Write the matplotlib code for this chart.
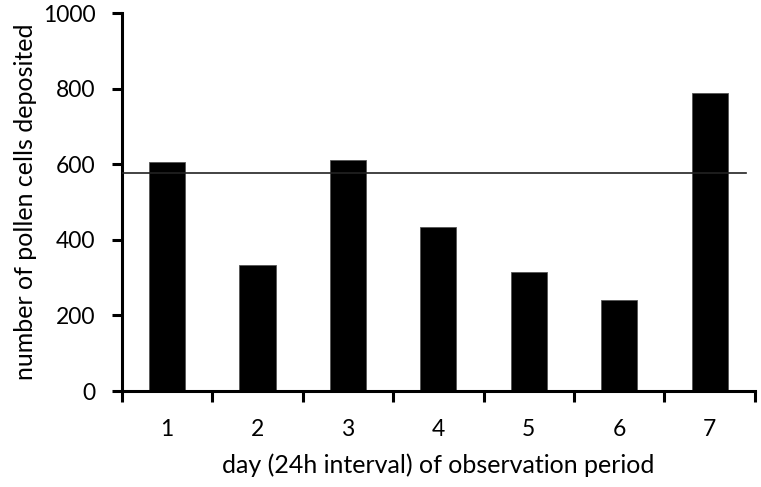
import numpy as np
import matplotlib.pyplot as plt
from matplotlib.ticker import FixedLocator

plt.rcParams['font.family'] = ['Lato', 'DejaVu Sans']

# data
days = ['1', '2', '3', '4', '5', '6', '7']
pollen = [606, 333, 611, 433, 315, 241, 788]
mean_level = 577

fig = plt.figure(figsize=(7.61, 4.87), dpi=100)
ax = fig.add_axes([0.160, 0.197, 0.832, 0.776])

x = np.arange(len(days))
ax.bar(x, pollen, width=0.4, color='black', edgecolor='#555555', linewidth=0.6, zorder=2)
ax.plot([-0.5, 6.4], [mean_level, mean_level], color='#222222', linewidth=1.2, zorder=3)

ax.set_xlim(-0.5, len(days) - 0.5)
ax.set_ylim(0, 1000)
ax.set_yticks(range(0, 1001, 200))
ax.set_xticks(x)
ax.set_xticklabels(days)
ax.xaxis.set_minor_locator(FixedLocator(np.arange(-0.5, len(days), 1.0)))

for s in ['top', 'right']:
    ax.spines[s].set_visible(False)
for s in ['left', 'bottom']:
    ax.spines[s].set_linewidth(2.2)

ax.tick_params(axis='y', direction='out', length=7, width=2.2, labelsize=16.5, pad=12)
ax.tick_params(axis='x', which='major', length=0, labelsize=16.5, pad=20)
ax.tick_params(axis='x', which='minor', direction='out', length=8, width=2.2)

ax.set_ylabel('number of pollen cells deposited', fontsize=18, labelpad=4)
ax.set_xlabel('day (24h interval) of observation period', fontsize=18, labelpad=10)

fig.savefig('out.png', dpi=100)
